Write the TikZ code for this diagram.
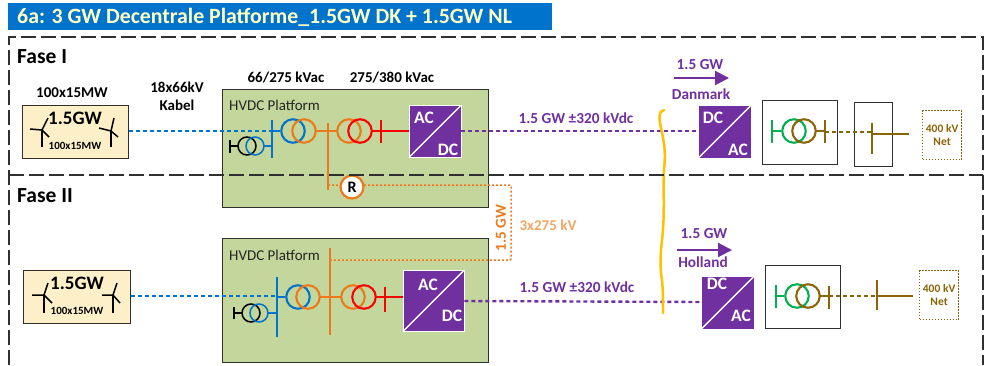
\documentclass[tikz,border=0pt]{standalone}
\usepackage{fontspec}
\setmainfont{Carlito}
\usetikzlibrary{arrows.meta}
\definecolor{cblue}{HTML}{0074CC}
\definecolor{corange}{HTML}{EC7A1C}
\definecolor{cpale}{HTML}{F4A564}
\definecolor{cred}{HTML}{FF0000}
\definecolor{cpurple}{HTML}{7030A0}
\definecolor{cbrown}{HTML}{8A6508}
\definecolor{cgreen}{HTML}{00B050}
\definecolor{cyellow}{HTML}{FFC000}
\definecolor{cplat}{HTML}{C3D69B}
\definecolor{cwind}{HTML}{FDF0C9}
\definecolor{ctitle}{HTML}{FFFFC4}
\definecolor{cframe}{HTML}{303030}
\newcommand{\fs}[1]{\fontsize{#1}{#1}\selectfont}
\tikzset{
  x=1pt,y=-1pt,
  ring/.style={circle,draw=#1,line width=2.1pt,minimum size=23.5pt,inner sep=0pt},
  sring/.style={circle,draw=#1,line width=1.5pt,minimum size=18pt,inner sep=0pt},
  wire/.style={draw=#1,line width=2.1pt},
  dotwire/.style={draw=#1,line width=2.4pt,dash pattern=on 4pt off 3pt},
  fine/.style={draw=#1,line width=1.5pt},
  boxed/.style={draw=cframe,line width=1.3pt,inner sep=0pt,anchor=north west},
  conv/.style={fill=cpurple,draw=white,line width=.3pt,inner sep=0pt,anchor=north west},
  convtext/.style={text=white,font=\bfseries\fs{17.5},inner sep=0pt},
  lab/.style={font=\bfseries\fs{15},inner sep=0pt,align=center},
  plab/.style={font=\bfseries\fs{15.3},inner sep=0pt,text=cpurple,align=center},
  phase/.style={font=\bfseries\fs{21.5},inner sep=0pt,anchor=west},
  frame/.style={draw=cframe,line width=1.3pt,dash pattern=on 15pt off 5pt},
  net/.style={draw=cbrown,line width=1.2pt,dash pattern=on 1.5pt off 1.5pt,fill=white,inner sep=0pt,anchor=north west,
    text=cbrown,font=\bfseries\fs{11.5},align=center},
  mill/.style={line width=1.5pt,draw=black},
  plat/.style={font=\fs{15},inner sep=0pt,anchor=west,text=black!85}
}
\newcommand{\turbine}[6]{%
  \coordinate (h) at (#1,#2);
  \draw[line width=1.9pt] (h) -- (#1,#3);
  \draw[mill] (#4) -- (h) -- (#5) (h) -- (#6);
}
\begin{document}
\begin{tikzpicture}
\useasboundingbox (0,0) rectangle (990,365);
% title
\node[fill=cblue,anchor=north west,minimum width=544pt,minimum height=27pt,inner sep=0pt] (title) at (8,3) {};
\node[anchor=west,inner sep=0pt,text=ctitle,font=\bfseries\fs{21.8}] (titletext) at (17,17) {6a: 3 GW Decentrale Platforme\_1.5GW DK + 1.5GW NL};

% platforms
\node[boxed,fill=cplat,minimum width=266pt,minimum height=118pt] (pf1) at (222,89) {};
\node[boxed,fill=cplat,minimum width=266pt,minimum height=124pt] (pf2) at (222,238) {};
\node[plat] (pf1t) at (229,105) {HVDC Platform};
\node[plat] (pf2t) at (229,255) {HVDC Platform};

% wind boxes
\node[boxed,fill=cwind,minimum width=106pt,minimum height=53pt] (w1) at (22,105) {};
\node[boxed,fill=cwind,minimum width=107pt,minimum height=53pt] (w2) at (23,270) {};
\node[font=\bfseries\fs{19},inner sep=0pt] (w1a) at (75,118) {1.5GW};
\node[font=\bfseries\fs{11},inner sep=0pt] (w1b) at (75,146) {100x15MW};
\node[font=\bfseries\fs{19},inner sep=0pt] (w2a) at (77,283) {1.5GW};
\node[font=\bfseries\fs{11},inner sep=0pt] (w2b) at (77,311) {100x15MW};
\turbine{42}{130}{147}{30,129}{48,118}{49,137}
\turbine{111}{131}{147}{99,128}{114,118}{118,137}
\turbine{44}{295}{313}{32,295}{48,283}{52,303}
\turbine{113}{295}{313}{102,295}{117,283}{120,303}

% top row, buses
\coordinate (b1a) at (272,131);
\coordinate (b1b) at (381,131);
\coordinate (b1s) at (272,146);
\coordinate (b1k) at (230,146);
\coordinate (b1o) at (328,131);
\coordinate (r1w) at (328,185);
\coordinate (tie1) at (511,185);
\coordinate (tie2) at (511,260);
\coordinate (b2o) at (330,260);
% converters
\node[conv,minimum width=52pt,minimum height=52pt] (c1) at (409,105) {};
\node[conv,minimum width=61pt,minimum height=61pt] (c2) at (403,270) {};
\node[conv,minimum width=53pt,minimum height=53pt] (c3) at (698,105) {};
\node[conv,minimum width=53pt,minimum height=53pt] (c4) at (701,276) {};
\foreach \c in {c1,c2,c3,c4}{\draw[white,line width=1.5pt] (\c.south west) ++(1,-1) -- ([shift={(-1,1)}]\c.north east);}
\node[convtext] (c1a) at (424,118) {AC};
\node[convtext] (c1b) at (448,150) {DC};
\node[convtext] (c2a) at (428,285) {AC};
\node[convtext] (c2b) at (452,316) {DC};
\node[convtext] (c3a) at (713,118) {DC};
\node[convtext] (c3b) at (738,150) {AC};
\node[convtext] (c4a) at (717,284) {DC};
\node[convtext] (c4b) at (741,316) {AC};

% top transformers
\draw[dotwire=cblue] (w1.east |- b1a) -- (b1a);
\draw[wire=cblue] (272,120) -- (272,158);
\draw[wire=corange] (328,123) -- (328,190);
\draw[wire=corange] (315,131) -- (338,131);
\draw[wire=cred] (371,131) -- (c1.west |- b1a);
\draw[wire=cred] (381,120) -- (381,143);
\node[ring=cblue] (t1a) at (293,131) {};
\node[ring=corange] (t1b) at (304,131) {};
\node[ring=corange] (t1c) at (349,131) {};
\node[ring=cred] (t1d) at (360,131) {};
\draw[wire=cblue] (b1a) -- (t1a);
\node[sring=black] (s1a) at (247,146) {};
\node[sring=cblue] (s1b) at (255,146) {};
\draw[fine=cblue] (s1b) ++(8.5,0) -- (b1s);
\draw[fine=black] (s1a) ++(-8.5,0) -- (b1k);
\draw[fine=black] (230,140) -- (230,153);

% bottom transformers
\draw[dotwire=cblue] (w2.east |- 0,296) -- (277,296);
\draw[wire=cblue] (277,277) -- (277,337);
\draw[wire=corange] (330,248) -- (330,335);
\draw[wire=corange] (319,297) -- (342,297);
\draw[wire=cred] (375,297) -- (403,297);
\draw[wire=cred] (385,287) -- (385,312);
\node[ring=cblue] (t2a) at (298,297) {};
\node[ring=corange] (t2b) at (308,297) {};
\node[ring=corange] (t2c) at (353,297) {};
\node[ring=cred] (t2d) at (364,297) {};
\draw[wire=cblue] (277,297) -- (t2a);
\node[sring=black] (s2a) at (251,313) {};
\node[sring=cblue] (s2b) at (259,313) {};
\draw[fine=cblue] (267.5,313) -- (277,313);
\draw[fine=black] (242.5,313) -- (234,313);
\draw[fine=black] (234,307) -- (234,319);

% orange 3x275 tie
\draw[draw=corange,line width=1.5pt,dash pattern=on 2pt off 2pt,rounded corners=1pt] (r1w) -- (tie1) -- (tie2) -- (b2o);
\node[circle,draw=corange,fill=white,line width=2.2pt,minimum size=23pt,inner sep=0pt,font=\bfseries\fs{16}] (R) at (352,187) {R};
\node[font=\bfseries\fs{15.3},text=corange,rotate=90,inner sep=0pt] (gw) at (501,228) {1.5 GW};
\node[font=\bfseries\fs{15},text=cpale,inner sep=0pt] (kv) at (548,225) {3x275 kV};

% DC cables
\draw[dotwire=cpurple] (c1.east |- b1a) -- (c3.west |- b1a);
\draw[dotwire=cpurple] (c2.east |- 0,301) -- (c4.west |- 0,302);
\node[plab] (dc1) at (576,118) {1.5 GW ±320 kVdc};
\node[plab] (dc2) at (577,287) {1.5 GW ±320 kVdc};

% yellow sea boundary
\coordinate (ya) at (664,110);
\coordinate (yb) at (663,313);
\draw[draw=cyellow,line width=2.5pt,line cap=round] (ya) .. controls (658,111) and (659,119) .. (661,128)
  .. controls (664,142) and (666,150) .. (664,170) .. controls (663,190) and (665,215) .. (662,240)
  .. controls (660,258) and (660,268) .. (662,280) .. controls (663,290) and (663,300) .. (yb);

% power arrows
\coordinate (a1s) at (674,78); \coordinate (a1e) at (729,78);
\coordinate (a2s) at (677,250); \coordinate (a2e) at (732,250);
\draw[draw=cpurple,line width=2.1pt,-{Triangle[length=14pt,width=14pt]}] (a1s) -- (a1e);
\draw[draw=cpurple,line width=2.1pt,-{Triangle[length=14pt,width=14pt]}] (a2s) -- (a2e);
\node[plab] (a1t) at (700,65) {1.5 GW};
\node[plab] (a1b) at (701,94) {Danmark};
\node[plab] (a2t) at (704,234) {1.5 GW};
\node[plab] (a2b) at (703,262) {Holland};

% land stations
\node[boxed,fill=white,minimum width=75pt,minimum height=64pt] (st1) at (762,100) {};
\node[boxed,fill=white,minimum width=38pt,minimum height=64pt] (st2) at (854,102) {};
\node[boxed,fill=white,minimum width=75pt,minimum height=63pt] (st3) at (765,265) {};
\node[net,minimum width=39pt,minimum height=49pt] (n1) at (922,110) {400 kV\\[1pt]Net};
\node[net,minimum width=39pt,minimum height=49pt] (n2) at (919,270) {400 kV\\[1pt]Net};

\node[ring=cgreen] (g1) at (794,131) {};
\node[ring=cbrown] (g2) at (804,131) {};
\draw[wire=cgreen] (772,131) -- (g1);
\draw[wire=cgreen] (772,120) -- (772,143);
\draw[wire=cbrown] (g2) ++(11,0) -- (825,131);
\draw[wire=cbrown] (825,120) -- (825,143);
\draw[dotwire=cbrown] (825,132) -- (872,132);
\draw[wire=cbrown] (872,123) -- (872,154);
\draw[wire=cbrown] (872,134) -- (909,134);

\node[ring=cgreen] (g3) at (797,296) {};
\node[ring=cbrown] (g4) at (808,296) {};
\draw[wire=cgreen] (776,296) -- (g3);
\draw[wire=cgreen] (776,285) -- (776,308);
\draw[wire=cbrown] (g4) ++(11,0) -- (829,296);
\draw[wire=cbrown] (829,286) -- (829,309);
\draw[dotwire=cbrown] (829,296) -- (877,296);
\draw[wire=cbrown] (877,280) -- (877,310);
\draw[wire=cbrown] (877,296) -- (913,296);

% labels
\node[phase] (f1) at (17,57) {Fase I};
\node[phase] (f2) at (17,196) {Fase II};
\node[lab] (l1) at (72,93) {100x15MW};
\node[lab] (l2) at (177,87) {18x66kV};
\node[lab] (l3) at (177,105) {Kabel};
\node[lab] (l4) at (286,78) {66/275 kVac};
\node[lab] (l5) at (392,78) {275/380 kVac};

% dashed frames
\coordinate (fa) at (9,365); \coordinate (fb) at (9,37); \coordinate (fc) at (983,37); \coordinate (fd) at (983,365);
\coordinate (fe) at (9,175); \coordinate (ff) at (983,175);
\draw[frame] (fa) -- (fb) -- (fc) -- (fd);
\draw[frame] (fe) -- (ff);
\end{tikzpicture}
\end{document}
